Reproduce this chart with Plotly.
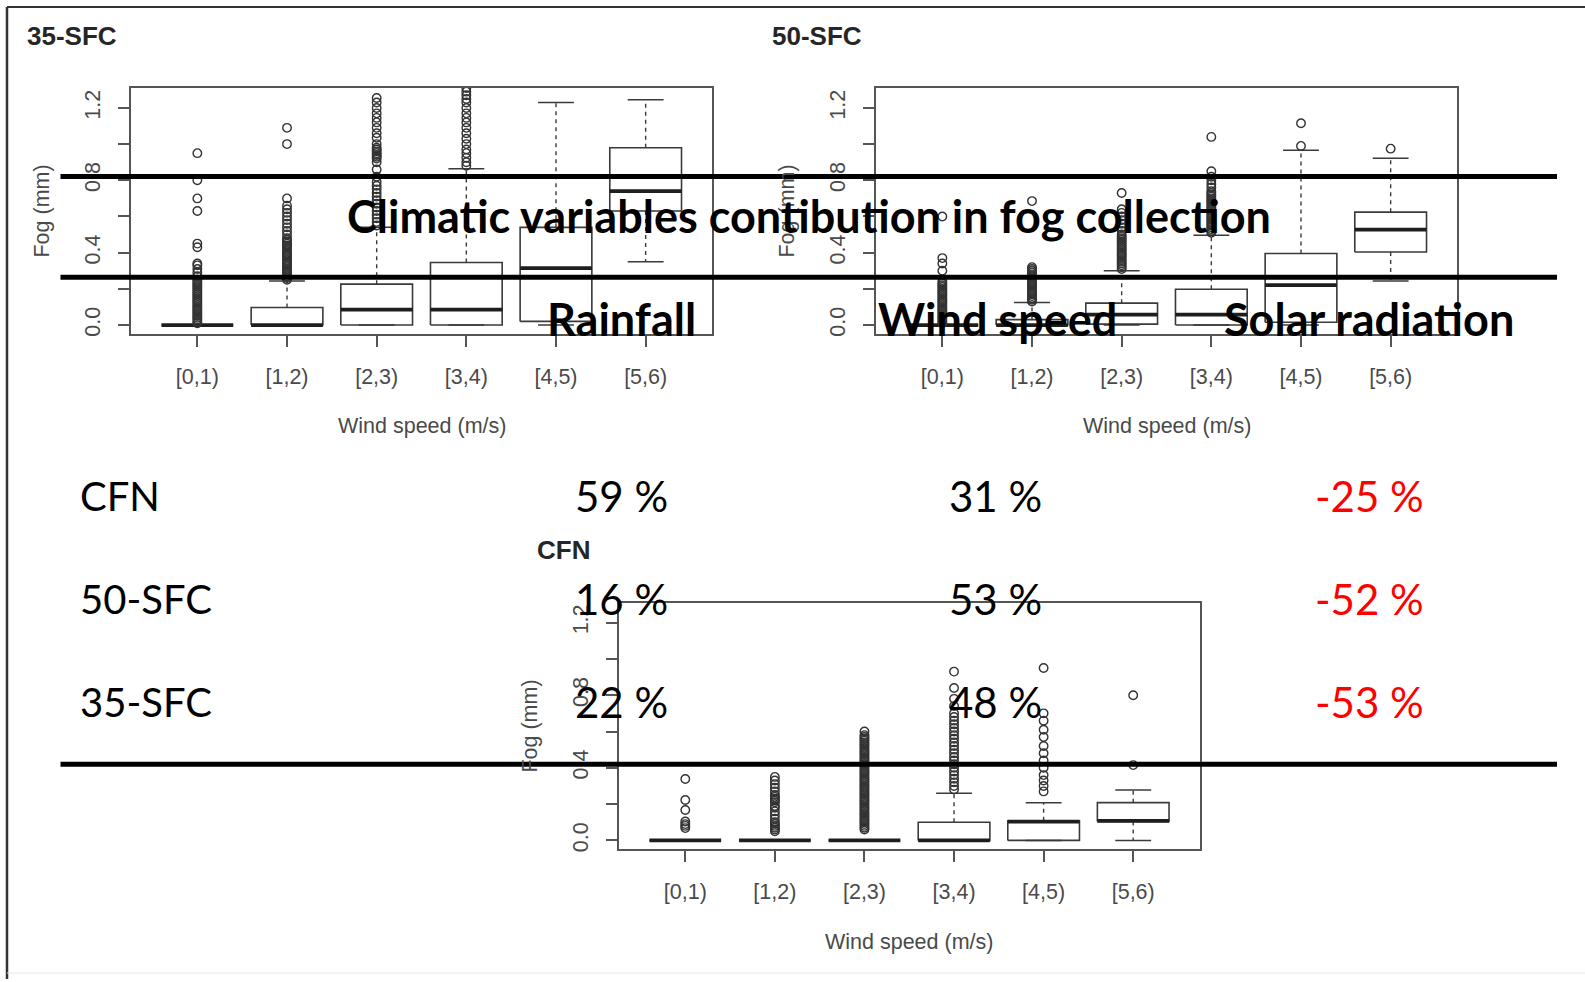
import plotly.graph_objects as go

W, H = 1585, 982

categories = ["[0,1)", "[1,2)", "[2,3)", "[3,4)", "[4,5)", "[5,6)"]
y_tickvals = [0.0, 0.2, 0.4, 0.6, 0.8, 1.0, 1.2]
y_ticktext = ["0.0", "", "0.4", "", "0.8", "", "1.2"]

# ---- 35-SFC ----
sfc35_q1 = [0, 0, 0, 0, 0.02, 0.63]
sfc35_med = [0, 0, 0.085, 0.085, 0.315, 0.74]
sfc35_q3 = [0, 0.097, 0.226, 0.346, 0.54, 0.98]
sfc35_lo = [0, 0, 0, 0, 0, 0.35]
sfc35_hi = [0, 0.244, 0.54, 0.864, 1.23, 1.245]
sfc35_out = [
    [0.01, 0.02, 0.03, 0.04, 0.05, 0.06, 0.07, 0.08, 0.09, 0.10, 0.11, 0.12, 0.13, 0.14,
     0.15, 0.16, 0.17, 0.18, 0.19, 0.20, 0.21, 0.22, 0.23, 0.24, 0.25, 0.27, 0.29, 0.31,
     0.33, 0.34, 0.43, 0.45, 0.63, 0.70, 0.80, 0.95],
    [0.25, 0.26, 0.27, 0.28, 0.29, 0.30, 0.31, 0.32, 0.33, 0.34, 0.35, 0.36, 0.37, 0.38,
     0.39, 0.40, 0.41, 0.42, 0.43, 0.44, 0.45, 0.46, 0.47, 0.48, 0.50, 0.52, 0.54, 0.56,
     0.58, 0.60, 0.62, 0.64, 0.66, 0.70, 1.00, 1.09],
    [0.55, 0.57, 0.59, 0.61, 0.63, 0.65, 0.67, 0.69, 0.71, 0.73, 0.75, 0.77, 0.79, 0.82,
     0.86, 0.90, 0.92, 0.93, 0.94, 0.95, 0.96, 0.97, 0.98, 1.00, 1.035, 1.06, 1.09, 1.12,
     1.145, 1.17, 1.20, 1.23, 1.255],
    [0.88, 0.90, 0.925, 0.95, 0.97, 1.00, 1.03, 1.06, 1.09, 1.12, 1.145, 1.17, 1.20, 1.23,
     1.25, 1.27, 1.29, 1.31],
    [],
    [],
]

# ---- 50-SFC ----
sfc50_q1 = [0, 0, 0.005, 0, 0.015, 0.404]
sfc50_med = [0, 0, 0.057, 0.057, 0.221, 0.527]
sfc50_q3 = [0, 0.03, 0.121, 0.198, 0.395, 0.624]
sfc50_lo = [0, 0, 0, 0, 0, 0.243]
sfc50_hi = [0, 0.125, 0.30, 0.496, 0.966, 0.922]
sfc50_out = [
    [0.01, 0.02, 0.03, 0.04, 0.05, 0.06, 0.07, 0.08, 0.09, 0.10, 0.11, 0.12, 0.13, 0.14,
     0.15, 0.16, 0.17, 0.18, 0.19, 0.20, 0.21, 0.22, 0.23, 0.24, 0.30, 0.34, 0.37, 0.60],
    [0.13, 0.14, 0.15, 0.16, 0.17, 0.18, 0.19, 0.20, 0.21, 0.22, 0.23, 0.24, 0.25, 0.26,
     0.27, 0.28, 0.29, 0.30, 0.31, 0.32, 0.685],
    [0.31, 0.32, 0.33, 0.34, 0.35, 0.36, 0.37, 0.38, 0.39, 0.40, 0.41, 0.42, 0.43, 0.44,
     0.45, 0.46, 0.47, 0.48, 0.49, 0.50, 0.52, 0.54, 0.56, 0.58, 0.60, 0.62, 0.64, 0.73],
    [0.51, 0.52, 0.53, 0.54, 0.55, 0.56, 0.57, 0.58, 0.59, 0.60, 0.61, 0.62, 0.63, 0.64,
     0.65, 0.66, 0.67, 0.68, 0.69, 0.70, 0.71, 0.72, 0.73, 0.74, 0.76, 0.78, 0.80, 0.82,
     0.85, 1.04],
    [0.99, 1.115],
    [0.975],
]

# ---- CFN ----
cfn_q1 = [0, 0, 0, 0, 0, 0.104]
cfn_med = [0, 0, 0, 0, 0.104, 0.108]
cfn_q3 = [0, 0, 0, 0.10, 0.108, 0.208]
cfn_lo = [0, 0, 0, 0, 0, 0]
cfn_hi = [0, 0, 0, 0.26, 0.208, 0.278]
cfn_out = [
    [0.068, 0.08, 0.09, 0.104, 0.168, 0.223, 0.338],
    [0.05, 0.06, 0.07, 0.08, 0.09, 0.10, 0.12, 0.14, 0.16, 0.18, 0.19, 0.21, 0.22, 0.23,
     0.24, 0.25, 0.27, 0.29, 0.31, 0.33, 0.35],
    [0.06, 0.07, 0.08, 0.09, 0.10, 0.11, 0.12, 0.13, 0.14, 0.15, 0.16, 0.17, 0.18, 0.19,
     0.20, 0.21, 0.22, 0.23, 0.24, 0.25, 0.26, 0.27, 0.28, 0.29, 0.30, 0.31, 0.32, 0.33,
     0.34, 0.35, 0.36, 0.37, 0.38, 0.39, 0.40, 0.41, 0.42, 0.43, 0.44, 0.45, 0.46, 0.47,
     0.48, 0.49, 0.50, 0.51, 0.52, 0.53, 0.54, 0.55, 0.56, 0.57, 0.58, 0.60],
    [0.28, 0.30, 0.32, 0.34, 0.36, 0.38, 0.40, 0.42, 0.44, 0.46, 0.48, 0.50, 0.52, 0.54,
     0.56, 0.58, 0.60, 0.62, 0.64, 0.66, 0.68, 0.70, 0.74, 0.78, 0.84, 0.93],
    [0.27, 0.30, 0.33, 0.36, 0.40, 0.44, 0.48, 0.52, 0.57, 0.61, 0.66, 0.70, 0.95],
    [0.415, 0.80],
]

# ---- overlay table ----
table_title = "Climatic variables contibution in fog collection"
table_columns = ["Rainfall", "Wind speed", "Solar radiation"]
table_rows = ["CFN", "50-SFC", "35-SFC"]
table_values = [
    ["59 %", "31 %", "-25 %"],
    ["16 %", "53 %", "-52 %"],
    ["22 %", "48 %", "-53 %"],
]

panels = [
    dict(name="35-SFC", q1=sfc35_q1, med=sfc35_med, q3=sfc35_q3, lo=sfc35_lo, hi=sfc35_hi,
         out=sfc35_out, px=(131, 712), py=(88.3, 335.1), title_xy=(25, 36.5)),
    dict(name="50-SFC", q1=sfc50_q1, med=sfc50_med, q3=sfc50_q3, lo=sfc50_lo, hi=sfc50_hi,
         out=sfc50_out, px=(876, 1457), py=(88.3, 335.1), title_xy=(770, 36.5)),
    dict(name="CFN", q1=cfn_q1, med=cfn_med, q3=cfn_q3, lo=cfn_lo, hi=cfn_hi,
         out=cfn_out, px=(619, 1199.5), py=(604.5, 852.1), title_xy=(535, 552)),
]

LINE = "#3a3a3a"
TXT = "#4a4a4a"
HALF_BOX = 0.4
HALF_CAP = 0.2
RFONT = "Liberation Sans"
RSIZE = 21.5

fig = go.Figure()
annotations = []

def px2x(p):
    return p / W

def py2y(p):
    return 1 - p / H

for k, p in enumerate(panels):
    sfx = "" if k == 0 else str(k + 1)
    xa, ya = "x" + sfx, "y" + sfx
    bx, by, mx, my, wx, wy, cx, cy, ox, oy = [], [], [], [], [], [], [], [], [], []
    for i in range(len(categories)):
        c = i + 1
        q1, md, q3, lo, hi = p["q1"][i], p["med"][i], p["q3"][i], p["lo"][i], p["hi"][i]
        bx += [c - HALF_BOX, c + HALF_BOX, c + HALF_BOX, c - HALF_BOX, c - HALF_BOX, None]
        by += [q1, q1, q3, q3, q1, None]
        mx += [c - HALF_BOX, c + HALF_BOX, None]
        my += [md, md, None]
        wx += [c, c, None, c, c, None]
        wy += [q3, hi, None, q1, lo, None]
        cx += [c - HALF_CAP, c + HALF_CAP, None, c - HALF_CAP, c + HALF_CAP, None]
        cy += [hi, hi, None, lo, lo, None]
        for v in p["out"][i]:
            ox.append(c)
            oy.append(v)
    common = dict(xaxis=xa, yaxis=ya, showlegend=False, hoverinfo="skip")
    fig.add_trace(go.Scatter(x=wx, y=wy, mode="lines",
                             line=dict(color=LINE, width=1.4, dash="4px,4px"), **common))
    fig.add_trace(go.Scatter(x=cx, y=cy, mode="lines",
                             line=dict(color=LINE, width=1.5), **common))
    fig.add_trace(go.Scatter(x=bx, y=by, mode="lines",
                             line=dict(color=LINE, width=1.6), **common))
    fig.add_trace(go.Scatter(x=mx, y=my, mode="lines",
                             line=dict(color="#1e1e1e", width=3.8), **common))
    fig.add_trace(go.Scatter(x=ox, y=oy, mode="markers",
                             marker=dict(symbol="circle-open", size=8.5, color="#333333",
                                         line=dict(width=1.4)), **common))

    x0, x1 = p["px"]
    y0, y1 = p["py"]
    fig.layout["xaxis" + sfx] = dict(
        domain=[px2x(x0), px2x(x1)], anchor=ya, range=[0.26, 6.74],
        tickvals=list(range(1, 7)), ticktext=categories, showline=True, mirror=True,
        linecolor="#555555", linewidth=1.7, ticks="outside", ticklen=11, tickwidth=1.5,
        tickcolor="#555555", showgrid=False, zeroline=False,
        tickfont=dict(family=RFONT, size=RSIZE, color=TXT),
        ticklabelstandoff=11, fixedrange=True,
    )
    fig.layout["yaxis" + sfx] = dict(
        domain=[py2y(y1), py2y(y0)], anchor=xa, range=[-0.05, 1.31],
        tickvals=y_tickvals, ticktext=y_ticktext, tickangle=-90, showline=True, mirror=True,
        linecolor="#555555", linewidth=1.7, ticks="outside", ticklen=11, tickwidth=1.5,
        tickcolor="#555555", showgrid=False, zeroline=False,
        tickfont=dict(family=RFONT, size=RSIZE, color=TXT),
        ticklabelstandoff=10, fixedrange=True,
    )
    tx, ty = p["title_xy"]
    annotations.append(dict(text="<b>" + p["name"] + "</b>", x=px2x(tx), y=py2y(ty),
                            xref="paper", yref="paper", xanchor="left", yanchor="middle",
                            showarrow=False,
                            font=dict(family=RFONT, size=26, color="#262626")))
    # axis titles
    annotations.append(dict(text="Wind speed (m/s)", x=px2x((x0 + x1) / 2),
                            y=py2y(y1 + 92.5), xref="paper", yref="paper",
                            xanchor="center", yanchor="middle", showarrow=False,
                            font=dict(family=RFONT, size=RSIZE, color=TXT)))
    annotations.append(dict(text="Fog (mm)", x=px2x(x0 - 88.5), y=py2y((y0 + y1) / 2),
                            xref="paper", yref="paper", xanchor="center", yanchor="middle",
                            textangle=-90, showarrow=False,
                            font=dict(family=RFONT, size=RSIZE, color=TXT)))

# overlay table text
BOLD = 45
REG = 42
annotations.append(dict(text="<b>" + table_title + "</b>", x=px2x(809), y=py2y(216.5),
                        xref="paper", yref="paper", xanchor="center", yanchor="middle",
                        showarrow=False, font=dict(family="Lato", size=BOLD, color="black")))
col_left = [545, 876, 1222]
for j, name in enumerate(table_columns):
    annotations.append(dict(text="<b>" + name + "</b>", x=px2x(col_left[j]), y=py2y(319.5),
                            xref="paper", yref="paper", xanchor="left", yanchor="middle",
                            showarrow=False, font=dict(family="Lato", size=BOLD, color="black")))
row_y = [497.3, 600.4, 704.5]
val_left = [573, 947, 1313]
for r, name in enumerate(table_rows):
    annotations.append(dict(text=name, x=px2x(78), y=py2y(row_y[r]), xref="paper",
                            yref="paper", xanchor="left", yanchor="middle", showarrow=False,
                            font=dict(family="Lato", size=40, color="black")))
    for j, v in enumerate(table_values[r]):
        col = "#ff0000" if v.startswith("-") else "black"
        annotations.append(dict(text=v, x=px2x(val_left[j]), y=py2y(row_y[r]), xref="paper",
                                yref="paper", xanchor="left", yanchor="middle",
                                showarrow=False,
                                font=dict(family="Lato", size=REG, color=col)))

shapes = []
for yy in [177, 278, 766.5]:
    shapes.append(dict(type="line", xref="paper", yref="paper", x0=px2x(60.5),
                       x1=px2x(1557), y0=py2y(yy), y1=py2y(yy),
                       line=dict(color="black", width=5)))
# outer frame
shapes.append(dict(type="line", xref="paper", yref="paper", x0=px2x(7), x1=1,
                   y0=py2y(7), y1=py2y(7), line=dict(color="#333333", width=2.2)))
shapes.append(dict(type="line", xref="paper", yref="paper", x0=px2x(7), x1=px2x(7),
                   y0=py2y(7), y1=0, line=dict(color="#333333", width=2.5)))
shapes.append(dict(type="line", xref="paper", yref="paper", x0=px2x(7), x1=1,
                   y0=py2y(976), y1=py2y(976), line=dict(color="#e8e8e8", width=1)))

fig.update_layout(width=W, height=H, margin=dict(l=0, r=0, t=0, b=0),
                  paper_bgcolor="white", plot_bgcolor="white",
                  annotations=annotations, shapes=shapes)

fig.write_html("out.html", config={"displayModeBar": False},
               post_script="document.body.style.margin='0px';")
